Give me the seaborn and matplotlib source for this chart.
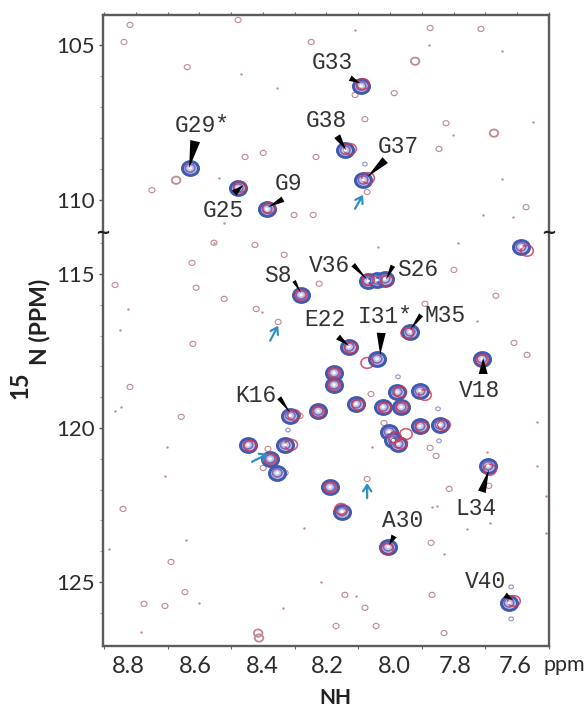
import numpy as np
import pandas as pd
import matplotlib
matplotlib.use("Agg")
import matplotlib.pyplot as plt
from matplotlib.markers import MarkerStyle
from matplotlib.patches import Polygon
from matplotlib.path import Path
from matplotlib.transforms import Affine2D, ScaledTranslation, IdentityTransform
import seaborn as sns

# ---------- data (ppm) ----------
blue_H = [8.091,8.629,8.478,8.387,8.141,8.085,7.588,8.069,8.041,8.016,8.280,7.937,8.129,8.041,7.711,
          8.176,8.176,7.978,7.906,8.107,8.022,7.965,7.906,7.843,8.003,7.990,7.975,8.314,8.226,8.447,
          8.330,8.377,8.355,8.189,8.151,7.692,8.006,7.626]
blue_N = [106.32,108.97,109.61,110.29,108.39,109.35,114.12,115.23,115.20,115.16,115.68,116.88,117.37,117.76,117.76,
          118.21,118.60,118.83,118.80,119.22,119.32,119.32,119.94,119.90,120.13,120.40,120.52,119.60,119.45,120.55,
          120.55,121.00,121.46,121.92,122.72,121.23,123.86,125.68]
red_H = [8.085,8.472,8.381,8.126,8.069,7.569,8.069,8.009,8.280,7.946,8.123,8.072,7.711,
         8.176,8.176,7.968,7.890,8.100,8.016,7.962,7.900,7.830,7.985,7.965,7.950,8.302,8.226,8.440,
         8.311,8.377,8.189,8.154,7.686,8.009,7.610]
red_N = [106.26,109.58,110.26,108.35,109.29,114.25,115.20,115.23,115.68,116.92,117.40,117.89,117.80,
         118.21,118.60,118.83,118.93,119.25,119.35,119.32,119.97,119.90,120.30,120.50,120.20,119.58,119.48,120.58,
         120.55,121.00,121.92,122.63,121.36,123.93,125.62]
ring_H = [8.818,8.837,8.638,8.478,8.248,7.987,8.079,8.233,8.456,8.399,8.749,8.302,8.242,8.072,8.110,7.874,7.714,
          7.824,7.846,7.572,8.554,8.425,8.333,8.623,8.610,8.865,8.522,8.421,8.352,8.620,8.818,8.657,
          8.384,8.283,8.223,7.799,7.667,7.890,7.610,7.569,8.060,8.019,7.874,7.855,8.840,8.689,8.645,
          8.774,8.708,8.170,8.044,8.079,8.142,8.072,7.871,7.868,7.830,7.814,8.399,8.330,7.689]
ring_N = [104.35,104.90,105.71,104.19,104.90,106.55,107.39,108.61,108.61,108.48,109.68,110.48,110.48,109.74,106.61,104.45,104.48,
          107.52,108.35,110.23,113.99,114.06,114.38,114.64,115.45,115.36,115.81,116.14,116.56,117.27,118.67,119.64,
          120.68,119.61,115.32,114.87,115.71,115.97,117.24,117.63,118.90,119.84,120.65,120.91,122.63,124.35,125.33,
          125.71,125.78,126.43,126.43,125.84,125.42,121.66,123.73,125.42,126.66,121.98,121.30,121.46,121.88]
big_H = [8.673,7.921,7.673,8.415,8.412]
big_N = [109.36,105.52,107.84,126.66,126.82]
speck_H = [8.469,8.355,8.110,8.538,8.522,7.877,7.648,7.802,7.550,7.648,7.613,7.708,8.554,8.038,7.786,8.403,
           8.824,8.849,8.846,8.865,7.726,7.695,8.057,7.538,7.538,8.708,8.642,8.884,8.601,8.783,8.701,8.337,
           8.217,8.107,8.270,7.830,7.868,7.852,7.509,7.509,7.758,7.685]
speck_N = [105.94,106.39,104.52,109.29,110.74,105.00,105.19,107.90,107.48,109.32,110.55,110.48,113.99,114.12,113.99,116.23,
           116.14,116.82,119.32,119.45,116.53,120.78,120.62,119.81,121.23,121.56,123.64,123.93,125.68,126.62,120.62,125.84,
           125.00,125.46,123.25,124.09,122.57,122.53,122.21,123.41,123.28,123.09]
small_blue_H = [8.079,7.975,7.849,7.846,7.619,7.619,8.321]
small_blue_N = [108.84,118.34,119.38,120.42,125.16,126.20,120.07]

label_names = ["G33","G29*","G38","G37","G9","G25","V36","S26","S8","E22","I31*","M35","K16","V18","L34","A30","V40"]
label_H = [8.094,8.632,8.138,8.072,8.384,8.462,8.072,8.013,8.280,8.129,8.031,7.937,8.314,7.707,7.689,8.003,7.613]
label_N = [106.23,108.97,108.39,109.26,110.23,109.52,115.19,115.19,115.62,117.34,117.63,116.82,119.51,117.73,121.36,123.80,125.59]
wedge_off = [(-10,5),(6,27),(-9,14),(18,17),(15,8),(-9,-8),(-14,15),(7,14),(-7,12),(-11,9),(1,22),(11,15),(-11,15),(0,-16),(-7,-22),(5,9),(-8,5)]
wedge_w = [6,10,7,8,6,7,5,5,4,6,9,5,5,9,8,6,6]
text_off = [(-28,21),(13,43),(-20,30),(31,31),(21,24),(-20,-25),(-38,14),(32,10),(-23,17),(-24,26),(5,38),(35,14),(-34,17),(-4,-33),(-13,-39),(14,24),(-28,19)]

mark_H = [8.085,8.352,8.384,8.072]
mark_N = [109.83,116.68,120.84,121.79]
mark_off = [(-8,-14),(-8,-15),(-16,-8),(0,-15)]

x_labels = [8.8,8.6,8.4,8.2,8.0,7.8,7.6]
x_label_shift = [-7,-4,-1,1,4,2,-2]

# ---------- styling ----------
sns.set_style("white")
plt.rcParams["font.family"] = ["Lato", "DejaVu Sans"]
W, H = 587, 708
fig = plt.figure(figsize=(W/100, H/100), dpi=100, facecolor="white")
L, R, T, M, B = 103, 549, 15, 232, 646
ax_top = fig.add_axes([L/W, 1-M/H, (R-L)/W, (M-T)/H])
ax_low = fig.add_axes([L/W, 1-B/H, (R-L)/W, (B-M)/H])
axes = [ax_top, ax_low]

oval = MarkerStyle(Path.unit_circle().transformed(Affine2D().scale(1, 0.86)))
def dia(px):
    return (px*0.72)**2

BLUE, RED, NOISE = "#3f5ab0", "#d0344e", "#c08a90"
def scatter(ax, xs, ys, px, **kw):
    df = pd.DataFrame({"H": xs, "N": ys})
    sns.scatterplot(data=df, x="H", y="N", ax=ax, s=dia(px), marker=oval, legend=False, **kw)

for ax in axes:
    scatter(ax, ring_H, ring_N, 6, fc="none", ec=NOISE, linewidth=0.8, zorder=1)
    scatter(ax, big_H, big_N, 8.5, fc="none", ec=NOISE, linewidth=1.3, zorder=1)
    scatter(ax, speck_H, speck_N, 2.2, fc=NOISE, ec=NOISE, linewidth=0.2, zorder=1)
    scatter(ax, small_blue_H, small_blue_N, 4.5, fc="none", ec="#8f95c6", linewidth=0.8, zorder=1)
    scatter(ax, blue_H, blue_N, 16, fc="#c3c5e6", ec=BLUE, linewidth=2.2, zorder=2)
    scatter(ax, blue_H, blue_N, 9.5, fc="none", ec="#8168b4", linewidth=1.2, zorder=3)
    scatter(ax, red_H, red_N, 12.5, fc="none", ec=RED, linewidth=1.2, alpha=0.8, zorder=4)
    scatter(ax, blue_H, blue_N, 3.5, fc="white", ec="none", linewidth=0, zorder=5)

    ax.set_xlim(8.903, 7.500)
    ax.set_xlabel(""); ax.set_ylabel("")
    ax.set_xticks(np.arange(7.5, 8.91, 0.1), minor=True)
    ax.tick_params(which="minor", axis="x", length=2.5, width=0.8, color="#666666", direction="out")
    for s in ax.spines.values():
        s.set_visible(True)
        s.set_color("#5c5c5c")
        s.set_linewidth(1.7)
    ax.patch.set_alpha(0)

ax_top.set_ylim(111.03, 104.03)
ax_low.set_ylim(127.08, 113.64)
ax_top.spines["bottom"].set_visible(False)
ax_low.spines["top"].set_visible(False)
ax_top.set_yticks([105, 110]); ax_top.set_yticks(np.arange(105, 111), minor=True)
ax_low.set_yticks([115, 120, 125]); ax_low.set_yticks(np.arange(114, 127), minor=True)
for ax in axes:
    ax.tick_params(axis="y", which="major", left=True, length=3, width=1, color="#555555",
                   labelsize=16, labelcolor="#2b2b2b", pad=3)
    ax.tick_params(axis="y", which="minor", left=True, length=2, width=0.6, color="#888888")
ax_top.set_xticks([])
ax_top.set_xticks(np.arange(7.5, 8.91, 0.1), minor=True)
ax_top.tick_params(axis="x", which="minor", top=True, bottom=False, length=2.5, width=0.8, color="#666666")

ax_low.set_xticks(x_labels)
ax_low.set_xticklabels([f"{v:.1f}" for v in x_labels])
ax_low.tick_params(axis="x", which="major", bottom=False, length=0, labelsize=17, labelcolor="#2b2b2b", pad=7)
ax_low.tick_params(axis="x", which="minor", bottom=True, length=2.5, width=0.8, color="#666666")
for lab, dx in zip(ax_low.get_xticklabels(), x_label_shift):
    lab.set_transform(lab.get_transform() + ScaledTranslation(dx/100, 0, fig.dpi_scale_trans))

# residue labels and wedge pointers
for name, hx, nx, wo, ww, to in zip(label_names, label_H, label_N, wedge_off, wedge_w, text_off):
    ax = ax_top if nx < 112 else ax_low
    tip = ax.transData.transform((hx, nx))
    base = tip + np.array(wo, float)
    d = np.array(wo, float) / np.hypot(*wo)
    perp = np.array([-d[1], d[0]]) * ww / 2
    fig.add_artist(Polygon([tip, base + perp, base - perp], closed=True, fc="black", ec="none",
                           transform=IdentityTransform(), zorder=8))
    ax.annotate(name, xy=(hx, nx), xytext=to, textcoords="offset pixels", ha="center", va="center",
                family="Liberation Mono", fontsize=16.5, color="#333333", zorder=9)

# blue arrows to the weak peaks
for hx, nx, mo in zip(mark_H, mark_N, mark_off):
    ax = ax_top if nx < 112 else ax_low
    ax.annotate("", xy=(hx, nx), xytext=mo, textcoords="offset pixels", zorder=7,
                arrowprops=dict(arrowstyle="->,head_length=0.45,head_width=0.3", color="#2f8fc4", lw=1.6,
                                mutation_scale=10, shrinkA=0, shrinkB=0))

# axis break marks
for xp in (L, R):
    fig.text(xp/W, 1-233/H, "~", ha="center", va="center",
             family="DejaVu Sans", fontweight="bold", fontsize=13, color="#222222")

# axis titles
fig.text(335/W, 1-698/H, "NH", ha="center", va="center", fontweight="bold", fontsize=15, color="#222222")
fig.text(564/W, 1-665/H, "ppm", ha="center", va="center", fontsize=15.5, color="#2b2b2b")
fig.text(39/W, 1-322/H, "N (PPM)", rotation=90, ha="center", va="center", fontweight="bold", fontsize=16.5, color="#222222")
fig.text(20/W, 1-385/H, "15", rotation=90, ha="center", va="center", fontweight="bold", fontsize=17, color="#222222")

fig.savefig("out.png", dpi=100)
